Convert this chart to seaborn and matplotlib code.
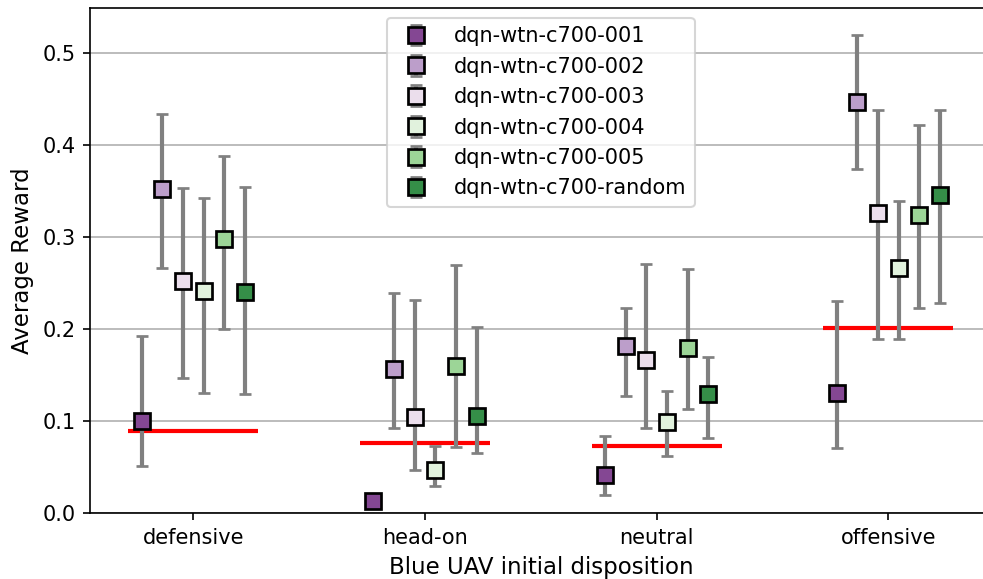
import numpy as np
import pandas as pd
import matplotlib
matplotlib.use("Agg")
import matplotlib.pyplot as plt
import seaborn as sns

# categories and series
dispositions = ["defensive", "head-on", "neutral", "offensive"]
models = ["dqn-wtn-c700-001", "dqn-wtn-c700-002", "dqn-wtn-c700-003",
          "dqn-wtn-c700-004", "dqn-wtn-c700-005", "dqn-wtn-c700-random"]

# mean reward per model (rows) and disposition (columns)
mean_001 = [0.100, 0.013, 0.041, 0.131]
mean_002 = [0.353, 0.157, 0.182, 0.447]
mean_003 = [0.252, 0.104, 0.166, 0.326]
mean_004 = [0.242, 0.047, 0.099, 0.267]
mean_005 = [0.298, 0.160, 0.180, 0.324]
mean_rnd = [0.240, 0.106, 0.130, 0.346]

# lower / upper bounds of the interval
low_001 = [0.051, 0.013, 0.020, 0.071]
low_002 = [0.267, 0.093, 0.127, 0.374]
low_003 = [0.147, 0.047, 0.093, 0.189]
low_004 = [0.131, 0.029, 0.062, 0.189]
low_005 = [0.200, 0.072, 0.113, 0.223]
low_rnd = [0.130, 0.065, 0.082, 0.229]

high_001 = [0.193, 0.013, 0.084, 0.231]
high_002 = [0.434, 0.239, 0.223, 0.520]
high_003 = [0.354, 0.232, 0.271, 0.438]
high_004 = [0.343, 0.073, 0.133, 0.339]
high_005 = [0.388, 0.270, 0.266, 0.422]
high_rnd = [0.355, 0.202, 0.170, 0.439]

# red reference line per disposition
baseline = [0.089, 0.076, 0.073, 0.201]

means = [mean_001, mean_002, mean_003, mean_004, mean_005, mean_rnd]
lows = [low_001, low_002, low_003, low_004, low_005, low_rnd]
highs = [high_001, high_002, high_003, high_004, high_005, high_rnd]

rows = []
for m, mu, lo, hi in zip(models, means, lows, highs):
    for d, a, b, c in zip(dispositions, mu, lo, hi):
        rows.append({"model": m, "disposition": d, "mean": a, "low": b, "high": c})
df = pd.DataFrame(rows)

palette = sns.color_palette("PRGn", len(models))

fig = plt.figure(figsize=(984 / 150, 579 / 150), dpi=150)
ax = fig.add_axes([0.0915, 0.114, 0.9163, 0.873])

x = np.arange(len(dispositions))
step = 0.089
for i, m in enumerate(models):
    sub = df[df["model"] == m].set_index("disposition").loc[dispositions]
    xs = x + (i - (len(models) - 1) / 2) * step
    yerr = np.vstack([sub["mean"] - sub["low"], sub["high"] - sub["mean"]])
    ax.errorbar(xs, sub["mean"], yerr=yerr, fmt="s", color=palette[i],
                ecolor="gray", elinewidth=2, capsize=3, capthick=2,
                markersize=8, markeredgecolor="black", markeredgewidth=1.3,
                label=m, zorder=3)

ax.hlines(baseline, x - 0.28, x + 0.28, color="red", linewidth=2, zorder=2.5)

ax.set_xlim(-0.446, 3.446)
ax.set_ylim(0, 0.55)
ax.set_xticks(x)
ax.set_xticklabels(dispositions)
ax.set_yticks(np.arange(0, 0.51, 0.1))
ax.yaxis.grid(True, color="#b0b0b0", linewidth=0.8)
ax.set_axisbelow(True)
ax.set_xlabel("Blue UAV initial disposition", fontsize=11)
ax.set_ylabel("Average Reward", fontsize=11)
ax.legend(loc="upper center", fontsize=10)

fig.savefig("out.png", dpi=150)
